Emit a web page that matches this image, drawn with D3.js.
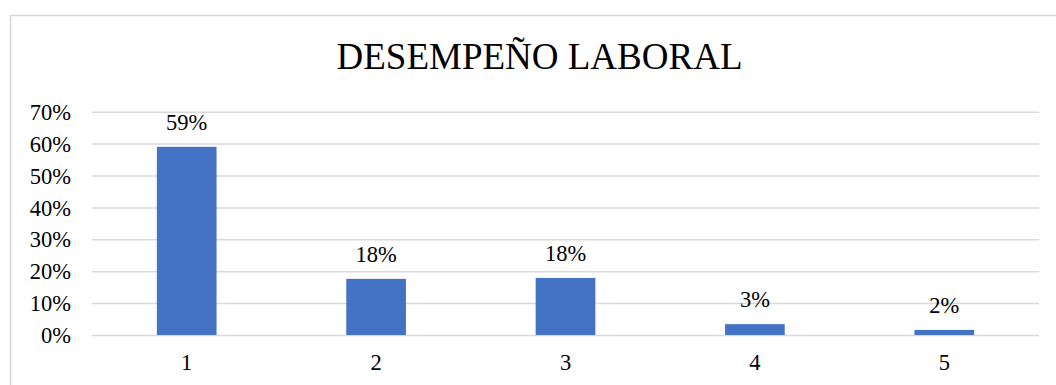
<!DOCTYPE html>
<html>
<head>
<meta charset="utf-8">
<script src="https://cdn.jsdelivr.net/npm/d3@7"></script>
<style>
  html, body { margin: 0; padding: 0; background: #fff; }
  svg { display: block; }
  text { font-family: "Liberation Serif", "Times New Roman", serif; fill: #000; }
</style>
</head>
<body>
<svg id="chart" width="1056" height="385"></svg>
<script>
// Survey results: share of respondents for each rating level
const categories = ["1", "2", "3", "4", "5"];
const values = [0.59, 0.176, 0.179, 0.034, 0.016];
const yTicks = [0, 0.1, 0.2, 0.3, 0.4, 0.5, 0.6, 0.7];
const title = "DESEMPEÑO LABORAL";

const svg = d3.select("#chart");
const W = 1056, H = 385;
const plot = { left: 92, right: 1039, top: 111.7, bottom: 335 };

// Chart frame
svg.append("rect")
  .attr("x", 10.5).attr("y", 15.5)
  .attr("width", W + 20).attr("height", H + 20)
  .attr("fill", "#fff")
  .attr("stroke", "#d9d9d9").attr("stroke-width", 1.5);

const x = d3.scaleBand()
  .domain(categories)
  .range([plot.left, plot.right])
  .paddingInner(0.685)
  .paddingOuter(0.3425);

const y = d3.scaleLinear()
  .domain([0, 0.7])
  .range([plot.bottom, plot.top]);

const pct = d3.format(".0%");

// Horizontal gridlines and percentage labels
const yAxis = d3.axisLeft(y)
  .tickValues(yTicks)
  .tickFormat(pct)
  .tickSize(-(plot.right - plot.left))
  .tickPadding(21);

const gy = svg.append("g")
  .attr("transform", `translate(${plot.left},0)`)
  .call(yAxis);
gy.select(".domain").remove();
gy.selectAll(".tick line")
  .attr("stroke", "#d9d9d9").attr("stroke-width", 1.5);
gy.selectAll(".tick text")
  .attr("font-size", 22.5)
  .attr("dy", "0.34em")
  .style("font-family", "'Liberation Serif', 'Times New Roman', serif");

// Category labels
const xAxis = d3.axisBottom(x).tickSize(0).tickPadding(0);
const gx = svg.append("g")
  .attr("transform", `translate(0,${plot.bottom})`)
  .call(xAxis);
gx.select(".domain").remove();
gx.selectAll(".tick text")
  .attr("font-size", 22.5)
  .attr("y", 35)
  .attr("dy", 0)
  .style("font-family", "'Liberation Serif', 'Times New Roman', serif");

// Bars
svg.append("g").selectAll("rect")
  .data(values)
  .join("rect")
  .attr("x", (d, i) => x(categories[i]))
  .attr("width", x.bandwidth())
  .attr("y", d => y(d))
  .attr("height", d => y(0) - y(d))
  .attr("fill", "#4472c4");

// Value labels above the bars
svg.append("g").selectAll("text")
  .data(values)
  .join("text")
  .attr("x", (d, i) => x(categories[i]) + x.bandwidth() / 2)
  .attr("y", d => y(d) - 17)
  .attr("text-anchor", "middle")
  .attr("font-size", 22.5)
  .text(d => pct(d));

// Title
svg.append("text")
  .attr("x", (plot.left + plot.right) / 2 - 26)
  .attr("y", 69)
  .attr("text-anchor", "middle")
  .attr("font-size", 37)
  .text(title);
</script>
</body>
</html>
